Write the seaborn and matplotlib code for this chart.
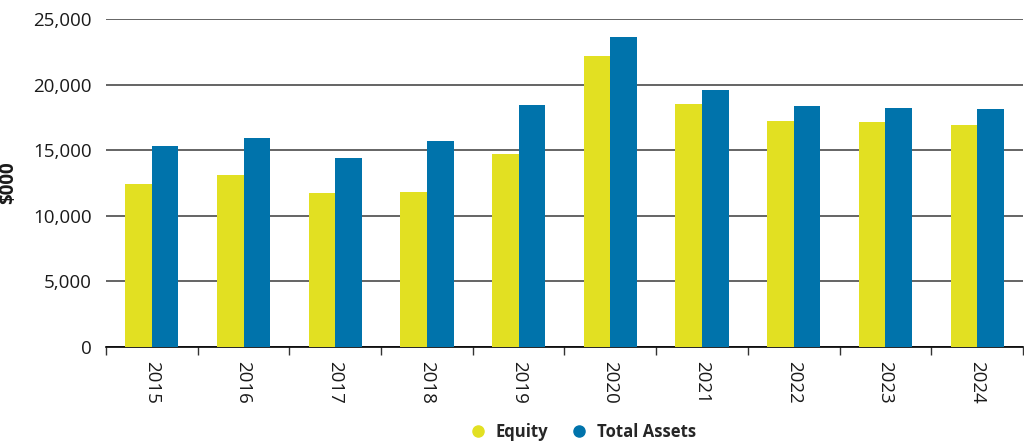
import pandas as pd
import seaborn as sns
import matplotlib.pyplot as plt
from matplotlib.lines import Line2D
from matplotlib.ticker import FuncFormatter, MultipleLocator

# valores ($000)
years = ['2015', '2016', '2017', '2018', '2019', '2020', '2021', '2022', '2023', '2024']
equity = [12450, 13130, 11760, 11810, 14740, 22150, 18530, 17210, 17110, 16900]
total_assets = [15350, 15960, 14380, 15730, 18480, 23650, 19550, 18380, 18250, 18100]
series_names = ['Equity', 'Total Assets']
colors = ['#E2E022', '#0073AB']

df = pd.DataFrame({'year': years * 2,
                   'series': [series_names[0]] * len(years) + [series_names[1]] * len(years),
                   'value': equity + total_assets})

sns.set_style('white')
plt.rcParams['font.family'] = ['Open Sans', 'DejaVu Sans']

fig = plt.figure(figsize=(10.24, 4.43), dpi=100)
ax = fig.add_axes([0.1035, 0.2167, 0.8955, 0.7405])

sns.barplot(data=df, x='year', y='value', hue='series', palette=colors,
            width=0.58, saturation=1, linewidth=0, ax=ax, legend=False, zorder=3)

ax.set_ylim(0, 25000)
ax.set_xlim(-0.5, len(years) - 0.5)
ax.yaxis.set_major_locator(MultipleLocator(5000))
ax.yaxis.set_major_formatter(FuncFormatter(lambda v, p: f'{int(v):,}'))
ax.grid(axis='y', color='#3a3a3a', linewidth=1.1, zorder=0)
ax.set_axisbelow(True)

for s in ['left', 'right', 'top']:
    ax.spines[s].set_visible(False)
ax.spines['bottom'].set_color('black')
ax.spines['bottom'].set_linewidth(1.2)

# marcas entre as categorias
ax.set_xticks(range(len(years)))
ax.set_xticklabels(years, rotation=-90, fontsize=13.5, color='#1a1a1a')
ax.set_xticks([i - 0.5 for i in range(len(years) + 1)], minor=True)
ax.tick_params(axis='x', which='minor', bottom=True, length=6, width=1,
               color='#333333', direction='out')
ax.tick_params(axis='x', which='major', bottom=True, length=0, pad=10)
ax.tick_params(axis='y', length=0, labelsize=13.5, labelcolor='#1a1a1a', pad=10)

ax.set_xlabel('')
ax.set_ylabel('$000', fontsize=13.5, fontweight='bold', color='#1a1a1a')
ax.yaxis.set_label_coords(-0.096, 0.5)

handles = [Line2D([0], [0], marker='o', linestyle='', markersize=8,
                  markerfacecolor=c, markeredgecolor=c) for c in colors]
fig.legend(handles, series_names, loc='lower center', bbox_to_anchor=(0.565, -0.03),
           ncol=2, frameon=False, handletextpad=0.05, columnspacing=0.9,
           prop={'family': ['Open Sans', 'DejaVu Sans'], 'weight': 'bold', 'size': 12})

fig.savefig('out.png', dpi=100)
